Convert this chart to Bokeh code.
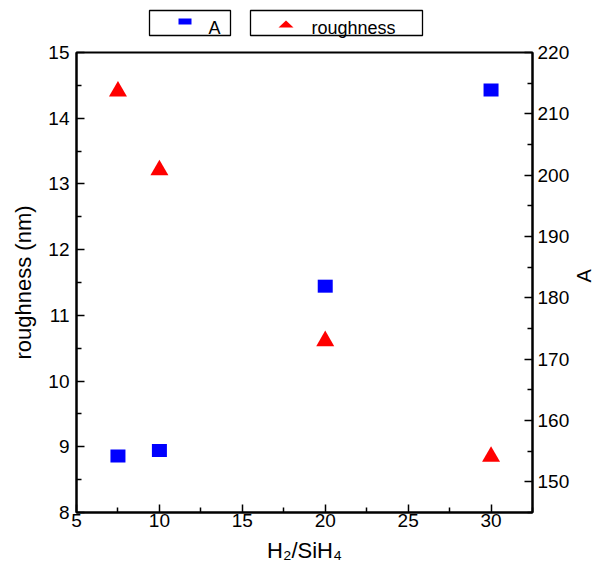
import math
from bokeh.plotting import figure
from bokeh.models import Range1d, LinearAxis, FixedTicker
from bokeh.embed import file_html
from bokeh.resources import INLINE
from bokeh.core.properties import value

# ---- data ----
ratio_rough = [7.5, 10, 20, 30]
roughness = [14.41, 13.21, 10.61, 8.85]
ratio_A = [7.5, 10, 20, 30]
A_vals = [154.2, 155.1, 181.9, 213.9]

x_ticks = [5, 10, 15, 20, 25, 30]
x_minor = [7.5, 12.5, 17.5, 22.5, 27.5, 32.5]
y_ticks = [8, 9, 10, 11, 12, 13, 14, 15]
y_minor = [8.5, 9.5, 10.5, 11.5, 12.5, 13.5, 14.5]
a_ticks = [150, 160, 170, 180, 190, 200, 210, 220]
a_minor = [145, 155, 165, 175, 185, 195, 205, 215]

legend_labels = ["A", "roughness"]

FONT = "Liberation Sans"

# ---- main plot ----
p = figure(frame_width=456, frame_height=460,
           x_range=Range1d(5, 32.5), y_range=Range1d(8, 15),
           output_backend="svg", toolbar_location=None,
           min_border_left=76, min_border_right=70,
           min_border_top=52, min_border_bottom=56)
p.extra_y_ranges = {"A": Range1d(145, 220), "ly": Range1d(512, 52)}
p.extra_x_ranges = {"lx": Range1d(76, 532)}
p.xgrid.visible = False
p.ygrid.visible = False
p.outline_line_color = "black"
p.outline_line_width = 2
p.background_fill_color = "white"
p.border_fill_color = "white"

ax_right = LinearAxis(y_range_name="A")
p.add_layout(ax_right, "right")

p.xaxis.ticker = FixedTicker(ticks=x_ticks, minor_ticks=x_minor)
p.yaxis[0].ticker = FixedTicker(ticks=y_ticks, minor_ticks=y_minor)
ax_right.ticker = FixedTicker(ticks=a_ticks, minor_ticks=a_minor)

for ax in [p.xaxis[0], p.yaxis[0], ax_right]:
    ax.axis_line_width = 2
    ax.axis_line_color = "black"
    ax.major_tick_in = 8
    ax.major_tick_out = 0
    ax.minor_tick_in = 5
    ax.minor_tick_out = 0
    ax.major_tick_line_width = 1.5
    ax.minor_tick_line_width = 1.5
    ax.major_tick_line_color = "black"
    ax.minor_tick_line_color = "black"
    ax.major_label_text_font = FONT
    ax.major_label_text_font_size = "19px"
    ax.major_label_text_color = "black"
    ax.axis_label_text_font = FONT
    ax.axis_label_text_font_style = "normal"
    ax.axis_label_text_color = "black"

p.xaxis[0].axis_label = "H\u2082/SiH\u2084"
p.xaxis[0].axis_label_text_font_size = "22px"
p.xaxis[0].major_label_standoff = 1
p.xaxis[0].axis_label_standoff = 8

p.yaxis[0].axis_label = "roughness (nm)"
p.yaxis[0].axis_label_text_font_size = "22px"
p.yaxis[0].major_label_standoff = 7
p.yaxis[0].axis_label_standoff = 9

ax_right.axis_label = "A"
ax_right.axis_label_text_font_size = "20px"
ax_right.major_label_standoff = 5
ax_right.axis_label_standoff = 12
ax_right.axis_label_orientation = math.pi / 2

p.rect(x=ratio_A, y=A_vals, width=15, height=13,
       width_units="screen", height_units="screen",
       fill_color="#0000ff", line_color=None, y_range_name="A")
p.scatter(x=ratio_rough, y=roughness, marker="triangle", size=18,
          fill_color="#ff0000", line_color=None)

# ---- legend boxes above the frame (page-pixel ranges) ----
p.quad(left=[149, 250], right=[230, 422], top=[10, 10], bottom=[35, 35],
       fill_color=None, line_color="black", line_width=1.3,
       x_range_name="lx", y_range_name="ly", level="overlay")
p.rect(x=[184.5], y=[21], width=13, height=6, fill_color="#0000ff", line_color=None,
       x_range_name="lx", y_range_name="ly", level="overlay")
p.patch(x=[278, 293, 285.5], y=[27, 27, 20], fill_color="#ff0000", line_color=None,
        x_range_name="lx", y_range_name="ly", level="overlay")
p.text(x=[208, 311], y=[27.3, 27.3], text=legend_labels,
       text_font=value(FONT), text_font_size="18px", text_color="black",
       text_baseline="alphabetic",
       x_range_name="lx", y_range_name="ly", level="overlay")

open("out.html", "w").write(file_html(p, INLINE))
